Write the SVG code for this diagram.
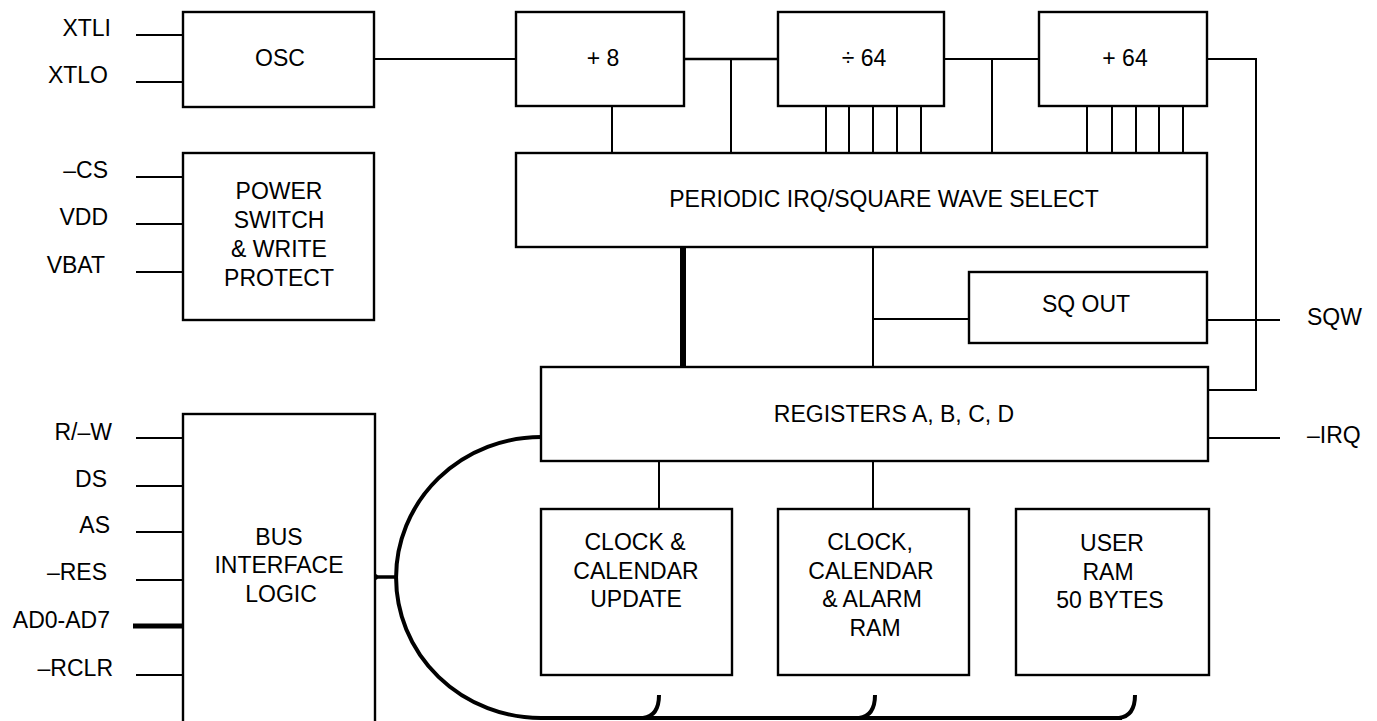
<svg xmlns="http://www.w3.org/2000/svg" width="1377" height="721" viewBox="0 0 1377 721">
<style>
.box{fill:#fff;stroke:#000;stroke-width:2.4}
.w{stroke:#000;stroke-width:2;fill:none}
.t{font-family:"Liberation Sans",Arial,Helvetica,sans-serif;font-size:23px;fill:#000}
.c{text-anchor:middle}
.e{text-anchor:end}
</style>
<rect width="1377" height="721" fill="#fff"/>
<g id="connectors">
  <path class="w" d="M136 35H183M136 82H183M374 59H516M944 59H1039M1207 59H1256V390H1208"/>
  <path class="w" style="stroke-width:2.6" d="M684 59H778"/>
  <path class="w" d="M731 59V153M612 106V153M992 59V153"/>
  <path class="w" d="M826 106V153M849 106V153M873 106V153M897 106V153M921 106V153"/>
  <path class="w" d="M1087 106V153M1112 106V153M1136 106V153M1159 106V153M1183 106V153"/>
  <path class="w" d="M136 177H183M136 224H183M136 272H183"/>
  <path class="w" style="stroke-width:6" d="M683 247V367"/>
  <path class="w" d="M873 247V367M873 319H969M1207 320H1280M1208 438H1280M659 461V509M873 461V509"/>
  <path class="w" d="M136 438H183M136 486H183M136 532H183M136 580H183M136 675H183"/>
  <path class="w" style="stroke-width:5" d="M133 626H183"/>
  <path class="w" style="stroke-width:3.5" d="M375 577H397"/>
  <circle cx="375" cy="577" r="3"/>
  <path class="w" style="stroke-width:4" d="M541 437A145 140.5 0 0 0 541 718H1122"/>
  <path class="w" style="stroke-width:4" d="M643 718Q659 716 659 695M859 718Q875 716 875 695M1119 718Q1135 716 1135 695"/>
</g>
<g id="labels">
  <text class="t e" x="111" y="36">XTLI</text>
  <text class="t e" x="108" y="83">XTLO</text>
  <text class="t e" x="108" y="178">–CS</text>
  <text class="t e" x="108" y="225">VDD</text>
  <text class="t e" x="105" y="273">VBAT</text>
  <text class="t e" x="112" y="440">R/–W</text>
  <text class="t e" x="107" y="487">DS</text>
  <text class="t e" x="110" y="533">AS</text>
  <text class="t e" x="107" y="580">–RES</text>
  <text class="t e" x="110" y="628">AD0-AD7</text>
  <text class="t e" x="113" y="676">–RCLR</text>
  <text class="t" x="1307" y="325">SQW</text>
  <text class="t" x="1307" y="443">–IRQ</text>
</g>
<g id="osc">
  <rect class="box" x="183" y="12" width="191" height="95"/>
  <text class="t c" x="280" y="66">OSC</text>
</g>
<g id="div8">
  <rect class="box" x="516" y="12" width="168" height="94"/>
  <text class="t c" x="603" y="66">+ 8</text>
</g>
<g id="div64a">
  <rect class="box" x="778" y="12" width="166" height="94"/>
  <text class="t c" x="864" y="66">÷ 64</text>
</g>
<g id="div64b">
  <rect class="box" x="1039" y="12" width="168" height="94"/>
  <text class="t c" x="1125" y="66">+ 64</text>
</g>
<g id="power">
  <rect class="box" x="183" y="153" width="191" height="167"/>
  <text class="t c" x="279" y="199">POWER</text>
  <text class="t c" x="279" y="228">SWITCH</text>
  <text class="t c" x="279" y="257">&amp; WRITE</text>
  <text class="t c" x="279" y="286">PROTECT</text>
</g>
<g id="pirq">
  <rect class="box" x="516" y="153" width="691" height="94"/>
  <text class="t c" x="884" y="207">PERIODIC IRQ/SQUARE WAVE SELECT</text>
</g>
<g id="sqout">
  <rect class="box" x="969" y="272" width="238" height="71"/>
  <text class="t c" x="1086" y="312">SQ OUT</text>
</g>
<g id="registers">
  <rect class="box" x="541" y="367" width="667" height="94"/>
  <text class="t c" x="894" y="422">REGISTERS A, B, C, D</text>
</g>
<g id="bus">
  <rect class="box" x="183" y="414" width="192" height="320"/>
  <text class="t c" x="279" y="545">BUS</text>
  <text class="t c" x="279" y="573">INTERFACE</text>
  <text class="t c" x="281" y="602">LOGIC</text>
</g>
<g id="update">
  <rect class="box" x="541" y="509" width="191" height="166"/>
  <text class="t c" x="635" y="550">CLOCK &amp;</text>
  <text class="t c" x="636" y="579">CALENDAR</text>
  <text class="t c" x="636" y="607">UPDATE</text>
</g>
<g id="alarmram">
  <rect class="box" x="778" y="509" width="191" height="166"/>
  <text class="t c" x="870" y="550">CLOCK,</text>
  <text class="t c" x="871" y="579">CALENDAR</text>
  <text class="t c" x="872" y="607">&amp; ALARM</text>
  <text class="t c" x="875" y="636">RAM</text>
</g>
<g id="userram">
  <rect class="box" x="1016" y="509" width="193" height="166"/>
  <text class="t c" x="1112" y="551">USER</text>
  <text class="t c" x="1108" y="580">RAM</text>
  <text class="t c" x="1110" y="608">50 BYTES</text>
</g>
</svg>
